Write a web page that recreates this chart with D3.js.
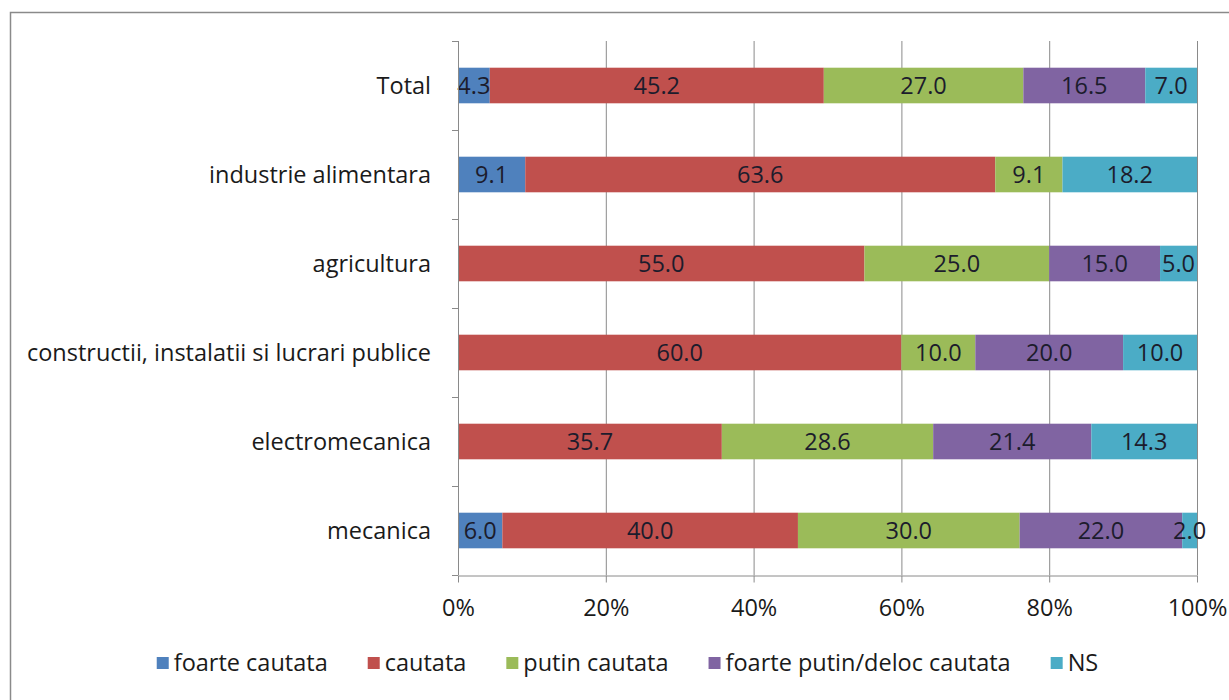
<!DOCTYPE html>
<html>
<head>
<meta charset="utf-8">
<script src="https://cdn.jsdelivr.net/npm/d3@7"></script>
<style>
  body { margin: 0; background: #fff; }
  text { font-family: "Open Sans", sans-serif; }
</style>
</head>
<body>
<div id="chart"></div>
<script>
var categories = ["Total", "industrie alimentara", "agricultura",
  "constructii, instalatii si lucrari publice", "electromecanica", "mecanica"];
var seriesNames = ["foarte cautata", "cautata", "putin cautata", "foarte putin/deloc cautata", "NS"];
var foarteCautata = [4.3, 9.1, 0, 0, 0, 6.0];
var cautata       = [45.2, 63.6, 55.0, 60.0, 35.7, 40.0];
var putinCautata  = [27.0, 9.1, 25.0, 10.0, 28.6, 30.0];
var foartePutin   = [16.5, 0, 15.0, 20.0, 21.4, 22.0];
var ns            = [7.0, 18.2, 5.0, 10.0, 14.3, 2.0];
var tickValues = [0, 20, 40, 60, 80, 100];
var colors = ["#4f81bd", "#c0504d", "#9bbb59", "#8064a2", "#4bacc6"];

var W = 1229, H = 700;
var margin = {left: 458, right: 32, top: 41, bottom: 125};
var fs = 23.5;

var svg = d3.select("#chart").append("svg")
    .attr("width", W).attr("height", H);

// outer frame (right and bottom run off the picture)
svg.append("rect")
    .attr("x", 10.5).attr("y", 12.5)
    .attr("width", W + 20).attr("height", H + 20)
    .attr("fill", "none").attr("stroke", "#8a8a8a").attr("stroke-width", 1.5);

var rows = categories.map(function(c, i) {
  return {cat: c, vals: [foarteCautata[i], cautata[i], putinCautata[i], foartePutin[i], ns[i]]};
});

var x = d3.scaleLinear().domain([0, 100]).range([margin.left, W - margin.right]);
var y = d3.scaleBand().domain(categories).range([margin.top, H - margin.bottom]).paddingInner(0.6).paddingOuter(0.3);
var band = d3.scaleBand().domain(categories).range([margin.top, H - margin.bottom]);

// gridlines
svg.append("g").selectAll("line").data(tickValues.slice(1)).enter().append("line")
    .attr("x1", function(d) { return x(d) + 0.5; }).attr("x2", function(d) { return x(d) + 0.5; })
    .attr("y1", margin.top).attr("y2", H - margin.bottom)
    .attr("stroke", "#8a8a8a").attr("stroke-width", 1);

// bars
var stacked = rows.map(function(r) {
  var acc = 0;
  return r.vals.map(function(v, k) {
    var s = {cat: r.cat, k: k, v: v, x0: acc, x1: acc + v};
    acc += v;
    return s;
  });
});

var g = svg.append("g");
stacked.forEach(function(segs) {
  var grp = g.append("g");
  var shown = segs.filter(function(s) { return s.v > 0; });
  grp.selectAll("rect").data(shown).enter().append("rect")
      .attr("x", function(s) { return x(s.x0); })
      .attr("width", function(s) { return x(s.x1) - x(s.x0); })
      .attr("y", function(s) { return y(s.cat); })
      .attr("height", y.bandwidth())
      .attr("fill", function(s) { return colors[s.k]; });
  grp.selectAll("text").data(shown).enter().append("text")
      .attr("x", function(s) { return x((s.x0 + s.x1) / 2); })
      .attr("y", function(s) { return y(s.cat) + y.bandwidth() / 2; })
      .attr("dy", "0.36em")
      .attr("text-anchor", "middle")
      .attr("font-size", fs)
      .attr("fill", "#1c1c2c")
      .text(function(s) { return s.v.toFixed(1); });
});

// y axis
var yAxis = svg.append("g");
yAxis.append("line")
    .attr("x1", margin.left + 0.5).attr("x2", margin.left + 0.5)
    .attr("y1", margin.top).attr("y2", H - margin.bottom)
    .attr("stroke", "#8a8a8a");
yAxis.selectAll(".tk").data(d3.range(categories.length + 1)).enter().append("line")
    .attr("x1", margin.left - 6).attr("x2", margin.left)
    .attr("y1", function(i) { return Math.round(margin.top + i * band.bandwidth()) + 0.5; })
    .attr("y2", function(i) { return Math.round(margin.top + i * band.bandwidth()) + 0.5; })
    .attr("stroke", "#8a8a8a");
yAxis.selectAll("text").data(categories).enter().append("text")
    .attr("x", margin.left - 27)
    .attr("y", function(c) { return y(c) + y.bandwidth() / 2; })
    .attr("dy", "0.36em")
    .attr("text-anchor", "end")
    .attr("font-size", fs)
    .attr("fill", "#1a1a1a")
    .text(function(c) { return c; });

// x axis
var xAxis = svg.append("g").attr("transform", "translate(0," + (H - margin.bottom + 0.5) + ")")
    .call(d3.axisBottom(x).tickValues(tickValues).tickSize(7).tickSizeOuter(0)
      .tickFormat(function(d) { return d + "%"; }));
xAxis.select(".domain").attr("stroke", "#8a8a8a");
xAxis.selectAll(".tick line").attr("stroke", "#8a8a8a");
xAxis.selectAll(".tick text").attr("font-size", fs).attr("fill", "#1a1a1a")
    .attr("font-family", "'Open Sans', sans-serif").attr("y", 24);

// legend
var legend = svg.append("g").attr("transform", "translate(0,663)");
var items = legend.selectAll("g").data(seriesNames).enter().append("g");
items.append("rect").attr("width", 12).attr("height", 12).attr("y", -6)
    .attr("fill", function(d, i) { return colors[i]; });
items.append("text").attr("x", 17).attr("dy", "0.36em")
    .attr("font-size", fs).attr("fill", "#1a1a1a")
    .text(function(d) { return d; });
var widths = [];
items.each(function() { widths.push(this.getBBox().width); });
var gap = 40;
var total = d3.sum(widths) + gap * (widths.length - 1);
var cx = 158 + ((1097 - 158) - total) / 2;
items.attr("transform", function(d, i) {
  var pos = cx + d3.sum(widths.slice(0, i)) + gap * i;
  return "translate(" + pos + ",0)";
});
</script>
</body>
</html>
